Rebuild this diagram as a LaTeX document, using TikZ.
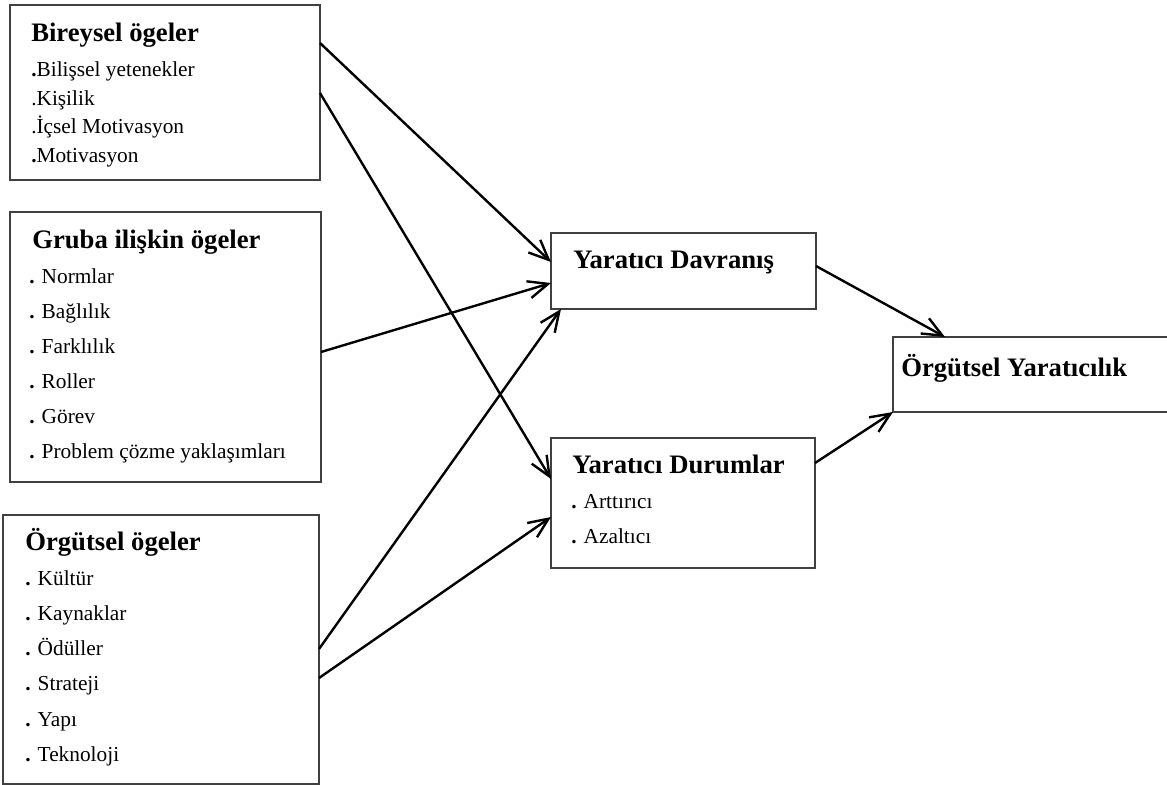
\documentclass[tikz,border=0pt]{standalone}
\usepackage{fontspec}
\setmainfont{Liberation Serif}
\usetikzlibrary{arrows.meta}
\begin{document}
\begin{tikzpicture}[x=0.75pt,y=-0.75pt,
  frame/.style={draw=black!75, line width=1pt, inner sep=0pt, outer sep=0pt},
  head/.style={anchor=base west, inner sep=0pt, font=\fontsize{20}{24}\selectfont\bfseries},
  item/.style={anchor=base west, inner sep=0pt, font=\fontsize{16}{19}\selectfont},
  link/.style={line width=1.8pt, -{Straight Barb[length=15pt,width=13pt,line width=1.8pt]}}]
\useasboundingbox (0,0) rectangle (1167,785);

% frames
\node[frame, minimum width=232.5pt, minimum height=131.25pt] (b1) at (165,92.5) {};
\node[frame, minimum width=233.25pt, minimum height=202.5pt] (b2) at (165.5,347) {};
\node[frame, minimum width=237pt, minimum height=201.75pt] (b3) at (161,649.5) {};
\node[frame, minimum width=198.75pt, minimum height=57pt] (dav) at (683.5,271) {};
\node[frame, minimum width=198pt, minimum height=97.5pt] (dur) at (683,503) {};
\node[frame, minimum width=207.75pt, minimum height=56.25pt] (oy) at (1031.5,374.5) {};

% individual factors
\node[head] (b1h) at (31,41) {Bireysel ögeler};
\node[item] (b1i1) at (31,76) {\textbf{.}Bilişsel yetenekler};
\node[item] (b1i2) at (31,105) {.Kişilik};
\node[item] (b1i3) at (31,133) {.İçsel Motivasyon};
\node[item] (b1i4) at (31,162) {\textbf{.}Motivasyon};

% group factors
\node[head] (b2h) at (32,248) {Gruba ilişkin ögeler};
\foreach \t [count=\i] in {Normlar, Bağlılık, Farklılık, Roller, Görev, Problem çözme yaklaşımları}
  \node[item] (b2i\i) at (29,{283+35*(\i-1)}) {\textbf{.} \t};

% organisational factors
\node[head] (b3h) at (25,550) {Örgütsel ögeler};
\foreach \t [count=\i] in {Kültür, Kaynaklar, Ödüller, Strateji, Yapı, Teknoloji}
  \node[item] (b3i\i) at (25,{585+35.3*(\i-1)}) {\textbf{.} \t};

% outcomes
\node[head] (davh) at (573,268) {Yaratıcı Davranış};
\node[head] (durh) at (572,473) {Yaratıcı Durumlar};
\node[item] (duri1) at (571,508) {\textbf{.} Arttırıcı};
\node[item] (duri2) at (571,543) {\textbf{.} Azaltıcı};
\node[head] (oyh) at (901,376) {Örgütsel Yaratıcılık};

% connectors
\draw[link] (b1.east |- 0,43) -- (dav.west |- 0,262);
\draw[link] (b1.east |- 0,93) -- (dur.west |- 0,479);
\draw[link] (b2.east |- 0,352) -- (dav.west |- 0,283);
\draw[link] (b3.east |- 0,649) -- (561,0 |- dav.south);
\draw[link] (b3.east |- 0,678) -- (dur.west |- 0,517);
\draw[link] (dav.east |- 0,266) -- (945,0 |- oy.north);
\draw[link] (dur.east |- 0,463) -- (oy.south west);
\end{tikzpicture}
\end{document}
